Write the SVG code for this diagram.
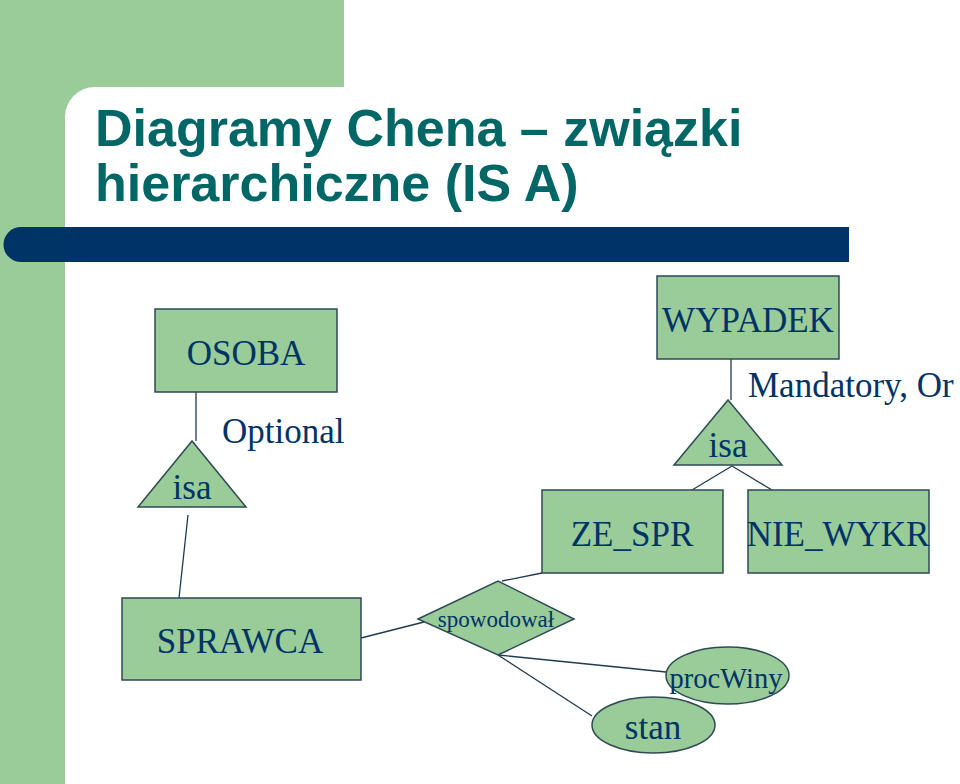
<svg xmlns="http://www.w3.org/2000/svg" width="960" height="784" viewBox="0 0 960 784">
<style>
.ent{fill:#99CC99;stroke:#2E4A55;stroke-width:1.5}
.lbl{font-family:"Liberation Serif","Times New Roman",serif;font-size:35px;fill:#003366;text-anchor:middle}
.free{font-family:"Liberation Serif","Times New Roman",serif;font-size:35px;fill:#003366}
.title{font-family:"Liberation Sans",Arial,sans-serif;font-size:52px;font-weight:bold;fill:#006666}
.conn line{stroke:#1F3A4F;stroke-width:1.3}
</style>
<rect x="0" y="0" width="960" height="784" fill="#FFFFFF"/>
<rect x="0" y="0" width="344" height="130" fill="#99CC99"/>
<rect x="0" y="0" width="65" height="784" fill="#99CC99"/>
<rect x="65" y="87" width="1000" height="1000" rx="30" ry="30" fill="#FFFFFF"/>
<path d="M21,227 H849 V262 H21 A17.5,17.5 0 0 1 21,227 Z" fill="#003366"/>
<text class="title" x="95" y="146">Diagramy Chena – związki</text>
<text class="title" x="95" y="201">hierarchiczne (IS A)</text>

<g id="connectors" class="conn">
<line x1="196" y1="392" x2="196" y2="441"/>
<line x1="188" y1="515" x2="179" y2="598"/>
<line x1="731" y1="359" x2="731" y2="400"/>
<line x1="732" y1="466" x2="692" y2="490"/>
<line x1="732" y1="466" x2="772" y2="490"/>
<line x1="361" y1="638" x2="424" y2="622"/>
<line x1="502" y1="581" x2="542" y2="573"/>
<line x1="498" y1="655" x2="666" y2="672"/>
<line x1="498" y1="655" x2="592" y2="716"/>
</g>

<g id="osoba">
<rect class="ent" x="155" y="309" width="182" height="83"/>
<text class="lbl" x="246" y="365">OSOBA</text>
</g>
<g id="isa1">
<polygon class="ent" points="192,441 138,507 246,507"/>
<text class="lbl" x="192" y="499">isa</text>
</g>
<g id="optional">
<text class="free" x="222" y="443">Optional</text>
</g>
<g id="sprawca">
<rect class="ent" x="122" y="598" width="239" height="82"/>
<text class="lbl" x="240" y="653">SPRAWCA</text>
</g>
<g id="wypadek">
<rect class="ent" x="657" y="276" width="182" height="83"/>
<text class="lbl" x="748" y="332">WYPADEK</text>
</g>
<g id="isa2">
<polygon class="ent" points="728,400 674,465 782,465"/>
<text class="lbl" x="728" y="457">isa</text>
</g>
<g id="mandatory">
<text class="free" x="748" y="397">Mandatory, Or</text>
</g>
<g id="ze_spr">
<rect class="ent" x="542" y="490" width="181" height="83"/>
<text class="lbl" x="632" y="546">ZE_SPR</text>
</g>
<g id="nie_wykr">
<rect class="ent" x="748" y="490" width="181" height="83"/>
<text class="lbl" x="838" y="546">NIE_WYKR</text>
</g>
<g id="spowodowal">
<polygon class="ent" points="418,619 498,581 574,619 498,655"/>
<text class="lbl" x="496" y="627" style="font-size:23px">spowodował</text>
</g>
<g id="procwiny">
<ellipse class="ent" cx="727.5" cy="675.5" rx="61.5" ry="28.5"/>
<text class="lbl" x="726" y="688" style="font-size:28.5px">procWiny</text>
</g>
<g id="stan">
<ellipse class="ent" cx="653.5" cy="725" rx="61.5" ry="28"/>
<text class="lbl" x="653" y="739">stan</text>
</g>
</svg>
